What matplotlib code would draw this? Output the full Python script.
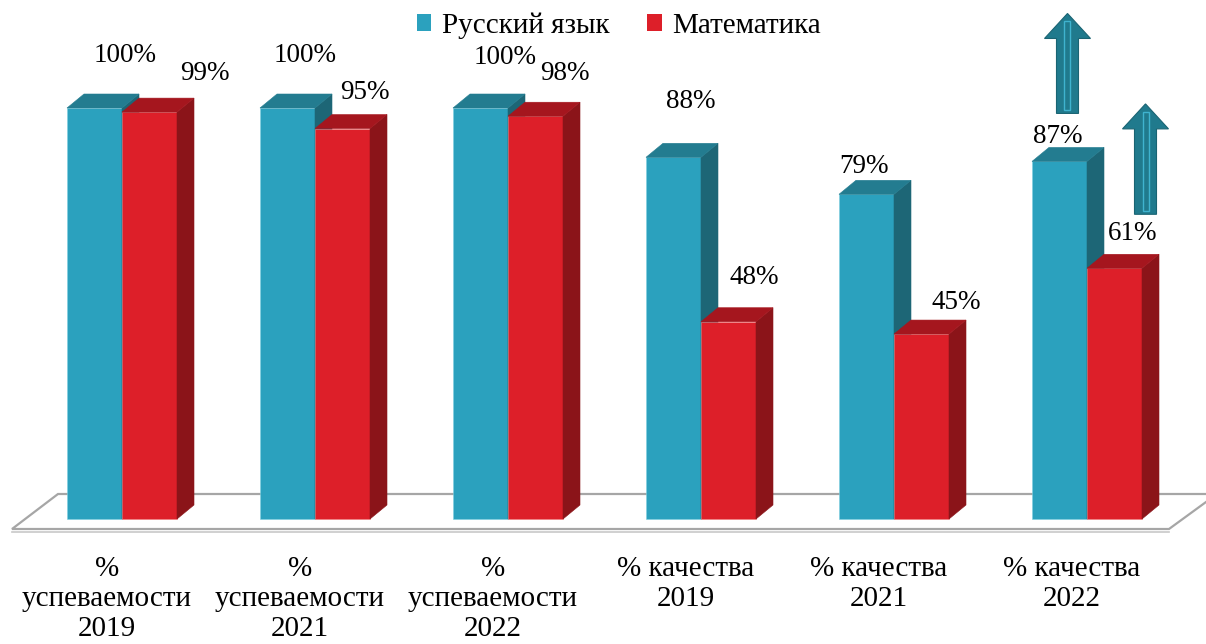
import matplotlib
matplotlib.use("Agg")
import matplotlib.pyplot as plt
from matplotlib.patches import Polygon, Patch

plt.rcParams["font.family"] = ["Liberation Serif", "DejaVu Serif"]

categories = ["%\nуспеваемости\n2019", "%\nуспеваемости\n2021", "%\nуспеваемости\n2022",
              "% качества\n2019", "% качества\n2021", "% качества\n2022"]
russian = [100, 100, 100, 88, 79, 87]
math = [99, 95, 98, 48, 45, 61]
series_names = ["Русский язык", "Математика"]

# layout: pixels -> data
PX_X = 193.0        # pixels per category
PX_Y = 4.11         # pixels per percent
W = 0.285           # bar width (category units)
DX = 17 / PX_X      # depth offset x
DY = 14 / PX_Y      # depth offset y

blue = ("#2ba1be", "#237c90", "#1d6676")
red = ("#dd1f29", "#a5161e", "#8b1419")

# label nudges in pixels (dx from group centre, dy above bar top)
blue_lab = [(3, 53), (-10, 53), (-3, 51), (-10, 56), (-30, 28), (-29, 25)]
red_lab = [(83, 39), (50, 36), (57, 43), (53, 44), (62, 32), (46, 35)]

fig = plt.figure(figsize=(12.06, 6.44), dpi=100)
ax = fig.add_axes([0, 0, 1, 1])
ax.set_xlim(-122 / PX_X, (1206 - 122) / PX_X)
ax.set_ylim(-125 / PX_Y, (644 - 125) / PX_Y)
ax.axis("off")

# floor plate
fy0 = -10 / PX_Y
fy1 = 25 / PX_Y
floor = [(-110 / PX_X, fy0), (1047 / PX_X, fy0), (1095 / PX_X, fy1), (-64 / PX_X, fy1)]
ax.add_patch(Polygon(floor, closed=True, facecolor="white", edgecolor="#a6a6a6", lw=1.6, zorder=1))
ax.plot([-110 / PX_X, 1047 / PX_X], [fy0 - 3 / PX_Y] * 2, color="#c8c8c8", lw=1.2, zorder=1)


def bar3d(x0, h, cols):
    front, top, side = cols
    ax.add_patch(Polygon([(x0, 0), (x0 + W, 0), (x0 + W, h), (x0, h)],
                         facecolor=front, edgecolor="#7fd0e0" if front == blue[0] else "#f08080",
                         lw=0.4, zorder=3))
    ax.add_patch(Polygon([(x0 + W, 0), (x0 + W + DX, DY), (x0 + W + DX, h + DY), (x0 + W, h)],
                         facecolor=side, edgecolor=side, lw=0.4, zorder=3))
    ax.add_patch(Polygon([(x0, h), (x0 + W, h), (x0 + W + DX, h + DY), (x0 + DX, h + DY)],
                         facecolor=top, edgecolor=top, lw=0.4, zorder=3))


for i in range(len(categories)):
    bar3d(i - W, russian[i], blue)
    bar3d(i, math[i], red)
    bx, by = blue_lab[i]
    ax.text(i + bx / PX_X, russian[i] + by / PX_Y, f"{russian[i]}%",
            ha="center", va="center", fontsize=19.5, color="black", zorder=8)
    rx, ry = red_lab[i]
    ax.text(i + rx / PX_X, math[i] + ry / PX_Y, f"{math[i]}%",
            ha="center", va="center", fontsize=19.5, color="black", zorder=8)
    ax.text(i - 15 / PX_X, -37 / PX_Y, categories[i], ha="center", va="top",
            fontsize=21, linespacing=1.2, zorder=5)


# growth arrows on last group
def up_arrow(xc, y0, y1):
    sw = 11 / PX_X
    hw = 23 / PX_X
    hl = 25 / PX_Y
    pts = [(xc - sw, y0), (xc + sw, y0), (xc + sw, y1 - hl), (xc + hw, y1 - hl),
           (xc, y1), (xc - hw, y1 - hl), (xc - sw, y1 - hl)]
    ax.add_patch(Polygon(pts, facecolor="#207a8d", edgecolor="#1a6473", lw=0.8, zorder=6))
    iw = 3 / PX_X
    inner = [(xc - iw, y0 + 3 / PX_Y), (xc + iw, y0 + 3 / PX_Y), (xc + iw, y1 - 8 / PX_Y),
             (xc - iw, y1 - 8 / PX_Y)]
    ax.add_patch(Polygon(inner, facecolor="none", edgecolor="#3fb3cf", lw=1.0, zorder=7))


last = len(categories) - 1
up_arrow(last - W / 2 + 8 / PX_X, russian[last] + 48 / PX_Y, russian[last] + 36)
up_arrow(last + W / 2 + 31 / PX_X, math[last] + 54 / PX_Y, math[last] + 40)

handles = [Patch(facecolor=blue[0]), Patch(facecolor=red[0])]
fig.legend(handles, series_names, loc="center", bbox_to_anchor=(0.513, 0.960), ncol=2,
           frameon=False, fontsize=21, handlelength=0.5, handleheight=0.5,
           handletextpad=0.35, columnspacing=1.3, borderpad=0)

fig.savefig("out.png", dpi=100)
